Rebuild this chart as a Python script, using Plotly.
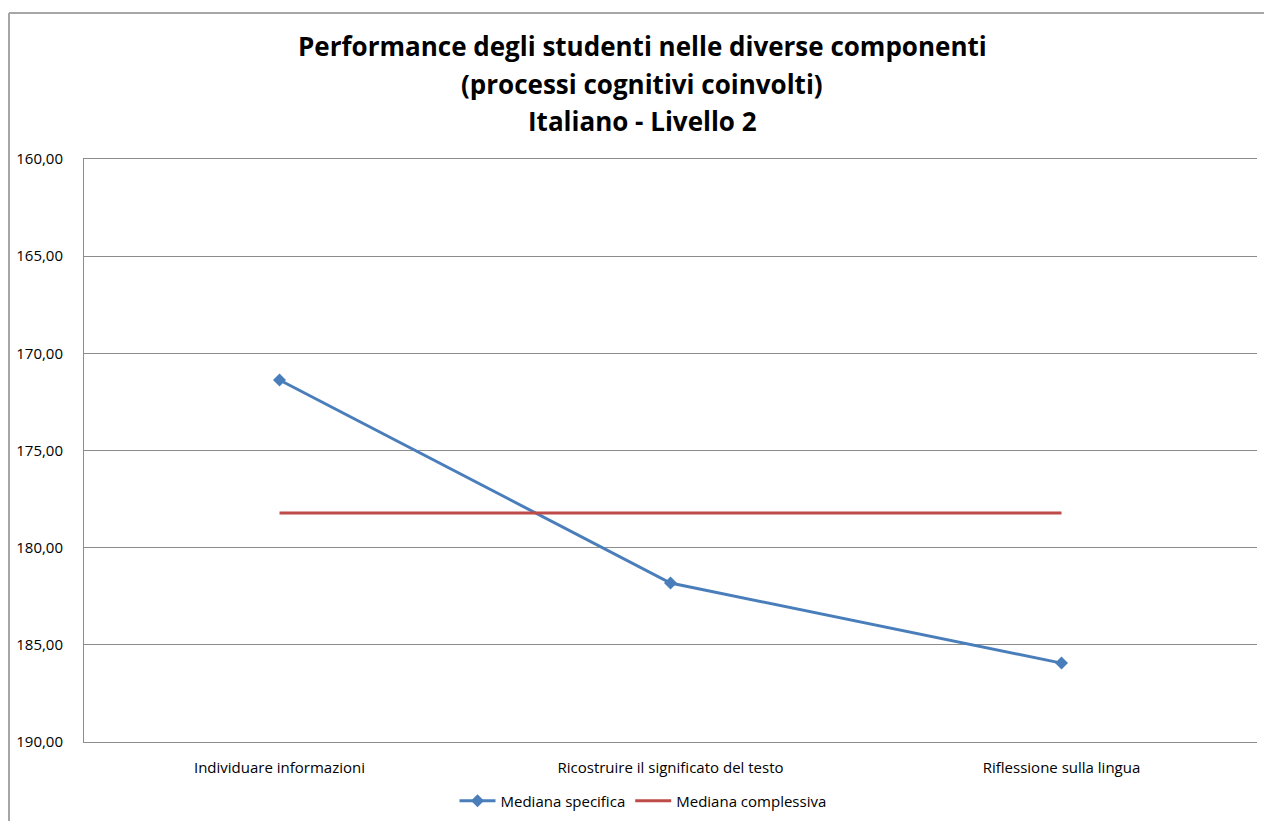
import plotly.graph_objects as go

categories = ["Individuare informazioni", "Ricostruire il significato del testo", "Riflessione sulla lingua"]
mediana_specifica = [171.37, 181.82, 185.94]
mediana_complessiva = [178.22, 178.22, 178.22]
title_lines = ["Performance degli studenti nelle diverse componenti",
               "(processi cognitivi coinvolti)",
               "Italiano - Livello 2"]
y_ticks = [160, 165, 170, 175, 180, 185, 190]

W, H = 1264, 821
L, R, T, B = 84, 1257, 159, 742

def px_x(x):
    return (x - L) / (R - L)

def px_y(y):
    return (B - y) / (B - T)

fig = go.Figure()
fig.add_trace(go.Scatter(
    x=categories, y=mediana_specifica, name="Mediana specifica",
    mode="lines+markers",
    line=dict(color="#4A7EBB", width=3),
    marker=dict(symbol="diamond", size=10, color="#4A7EBB"),
))
fig.add_trace(go.Scatter(
    x=categories, y=mediana_complessiva, name="Mediana complessiva",
    mode="lines",
    line=dict(color="#BE4B48", width=3),
))

font_family = "'Open Sans', sans-serif"

annotations = []
for line, yc in zip(title_lines, [46, 84, 121]):
    annotations.append(dict(
        text="<b>" + line + "</b>", xref="paper", yref="paper",
        x=px_x(642), y=px_y(yc), xanchor="center", yanchor="middle",
        showarrow=False, font=dict(family=font_family, size=26, color="#000000"),
    ))

shapes = [
    dict(type="line", xref="paper", yref="paper",
         x0=px_x(9), x1=px_x(9), y0=px_y(830), y1=px_y(13),
         line=dict(color="#A6A6A6", width=2)),
    dict(type="line", xref="paper", yref="paper",
         x0=px_x(9), x1=px_x(1270), y0=px_y(13), y1=px_y(13),
         line=dict(color="#A6A6A6", width=2)),
]

fig.update_layout(
    width=W, height=H,
    margin=dict(l=L, r=W - R, t=T, b=H - B, pad=0, autoexpand=False),
    paper_bgcolor="white", plot_bgcolor="white",
    separators=", ",
    font=dict(family=font_family, size=15, color="#000000"),
    showlegend=True,
    legend=dict(orientation="h", x=px_x(643), y=px_y(801), xanchor="center", yanchor="middle",
                font=dict(size=15, family=font_family), itemwidth=36, tracegroupgap=0),
    annotations=annotations,
    shapes=shapes,
    xaxis=dict(range=[-0.5, 2.5], showgrid=False, showline=True, linecolor="#8C8C8C",
               linewidth=1, mirror=True, zeroline=False, automargin=False,
               ticks="", tickfont=dict(size=15, family=font_family, color="#000000"),
               ticklabelstandoff=12),
    yaxis=dict(range=[190, 160], tickvals=y_ticks, tickformat=".2f",
               showgrid=True, gridcolor="#8C8C8C", gridwidth=1,
               showline=True, linecolor="#8C8C8C", linewidth=1, mirror=False,
               zeroline=False, ticks="", ticklabelstandoff=17, automargin=False,
               tickfont=dict(size=15, family=font_family, color="#000000")),
)

fig.write_html("out.html", config={"displayModeBar": False},
               post_script="document.body.style.margin='0';")
